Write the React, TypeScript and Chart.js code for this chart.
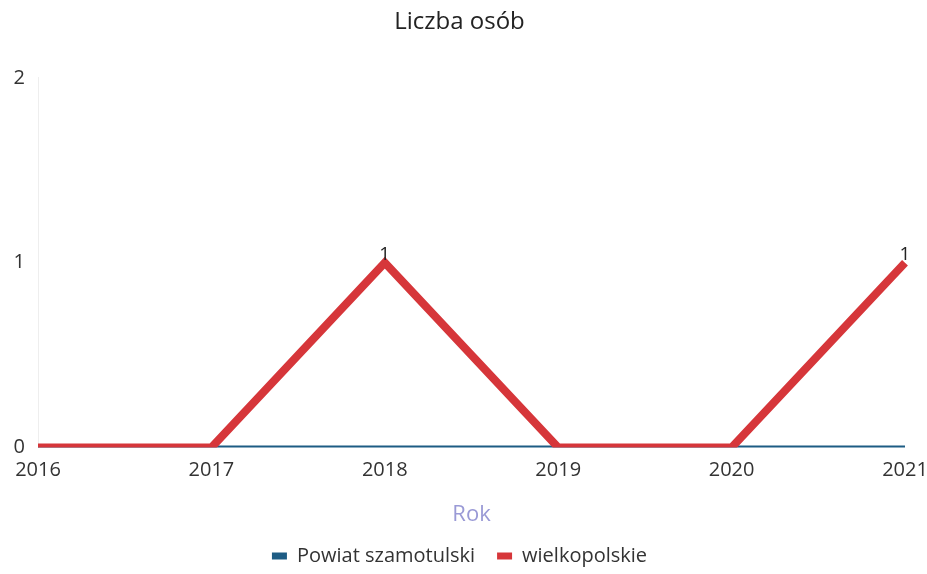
import React, { useEffect, useRef } from "react";
import { Chart, registerables } from "chart.js";

Chart.register(...registerables);

const categories = ["2016", "2017", "2018", "2019", "2020", "2021"];
const powiatValues = [0, 0, 0, 0, 0, 0];
const wielkopolskieValues = [0, 0, 1, 0, 0, 1];
const yTicks = [0, 1, 2];

const FONT = "'Open Sans', 'Noto Sans', sans-serif";

const labelPlugin = {
  id: "valueLabels",
  afterDatasetsDraw(chart: any) {
    const ctx = chart.ctx;
    const meta = chart.getDatasetMeta(1);
    const data = chart.data.datasets[1].data as number[];
    ctx.save();
    ctx.font = `19px ${FONT}`;
    ctx.fillStyle = "#222";
    ctx.textAlign = "center";
    ctx.textBaseline = "alphabetic";
    meta.data.forEach((pt: any, i: number) => {
      if (data[i] > 0) {
        ctx.fillText(String(data[i]), pt.x, pt.y - 3);
      }
    });
    ctx.restore();
  },
};

export default function App() {
  const ref = useRef<HTMLCanvasElement | null>(null);

  useEffect(() => {
    document.body.style.margin = "0";
    const canvas = ref.current;
    if (!canvas) return;
    const chart = new Chart(canvas, {
      type: "line",
      data: {
        labels: categories,
        datasets: [
          {
            label: "Powiat szamotulski",
            data: powiatValues,
            borderColor: "#1d5c84",
            backgroundColor: "#1d5c84",
            borderWidth: 4,
            pointRadius: 0,
            order: 2,
          },
          {
            label: "wielkopolskie",
            data: wielkopolskieValues,
            borderColor: "#d6363a",
            backgroundColor: "#d6363a",
            borderWidth: 8,
            pointRadius: 0,
            order: 1,
          },
        ],
      },
      options: {
        animation: false,
        responsive: false,
        maintainAspectRatio: false,
        layout: { padding: { left: 14, right: 22, top: 0, bottom: -2 } },
        plugins: {
          title: {
            display: true,
            text: "Liczba osób",
            color: "#222",
            font: { family: FONT, size: 24, weight: "normal" },
            padding: { top: 8, bottom: 41 },
          },
          legend: {
            position: "bottom",
            labels: {
              color: "#333",
              font: { family: FONT, size: 20 },
              boxWidth: 15,
              boxHeight: 7,
              padding: 22,
              sort: (a: any, b: any) => a.datasetIndex - b.datasetIndex,
              generateLabels: (c: any) =>
                Chart.defaults.plugins.legend.labels
                  .generateLabels(c)
                  .map((l: any) => ({ ...l, lineWidth: 0 })),
            },
          },
          tooltip: { enabled: false },
        },
        scales: {
          x: {
            grid: { display: false },
            border: { display: false },
            afterFit: (scale: any) => {
              scale.paddingLeft = 0;
              scale.paddingRight = 0;
            },
            ticks: {
              color: "#333",
              font: { family: FONT, size: 20 },
              padding: 3,
              maxRotation: 0,
            },
            title: {
              display: true,
              text: "Rok",
              color: "#9a9ad6",
              font: { family: FONT, size: 22 },
              padding: { top: 16, bottom: -4 },
            },
          },
          y: {
            min: 0,
            max: 2,
            afterBuildTicks: (axis: any) => {
              axis.ticks = yTicks.map((v) => ({ value: v }));
            },
            afterFit: (scale: any) => {
              scale.width = 24;
            },
            grid: { display: false, drawTicks: false },
            border: { display: true, color: "#eeeeee" },
            ticks: {
              color: "#333",
              font: { family: FONT, size: 20 },
              padding: 13,
            },
          },
        },
      },
      plugins: [labelPlugin],
    });
    return () => chart.destroy();
  }, []);

  return <canvas ref={ref} width={927} height={574} />;
}
